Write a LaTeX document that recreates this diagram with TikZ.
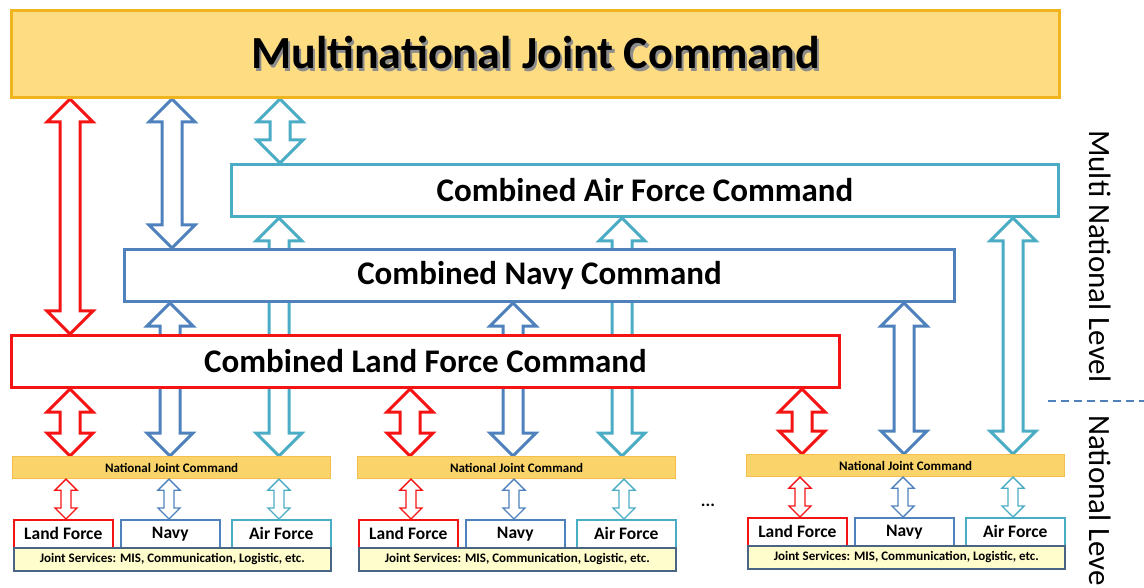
\documentclass[tikz,border=0pt]{standalone}
\usepackage{fontspec}
\setmainfont{Carlito}
\usetikzlibrary{calc}
\definecolor{cmdred}{HTML}{F41414}
\definecolor{cmdblue}{HTML}{4F81BD}
\definecolor{cmdcyan}{HTML}{4BACC6}
\definecolor{goldfill}{HTML}{FEDD82}
\definecolor{goldline}{HTML}{F0B41E}
\definecolor{njcfill}{HTML}{FAD46A}
\definecolor{njcline}{HTML}{F2C04A}
\definecolor{jsfill}{HTML}{FFFDCC}
\definecolor{jsline}{HTML}{4A6584}
\pgfdeclarelayer{background}
\pgfsetlayers{background,main}
\tikzstyle{topbox}=[draw=goldline,fill=goldfill,line width=3pt,anchor=north west,inner sep=0pt,minimum width=1048pt,minimum height=87pt,font=\bfseries\fontsize{46}{50}\selectfont]
\tikzstyle{bigbox}=[draw,fill=white,line width=3pt,anchor=north west,inner sep=0pt,minimum height=52pt,font=\bfseries\fontsize{33}{36}\selectfont]
\tikzstyle{njcbox}=[draw=njcline,fill=njcfill,line width=1.2pt,anchor=north west,inner sep=0pt,minimum width=318pt,minimum height=22pt,font=\bfseries\fontsize{13}{15}\selectfont]
\tikzstyle{forcebox}=[draw,fill=white,line width=1.6pt,anchor=north west,inner sep=0pt,minimum width=99pt,minimum height=28pt,font=\bfseries\fontsize{17.5}{20}\selectfont]
\tikzstyle{jsbox}=[draw=jsline,fill=jsfill,line width=1.6pt,anchor=north west,inner sep=0pt,minimum width=317pt,minimum height=23pt,font=\bfseries\fontsize{13}{15}\selectfont]
\tikzstyle{bigarrow}=[line width=3pt,line join=miter]
\tikzstyle{smallarrow}=[line width=1.4pt,line join=miter]
\tikzstyle{sidelabel}=[rotate=-90,anchor=west,inner sep=0pt,font=\fontsize{31}{34}\selectfont]
\newcommand{\shadowtext}[1]{\makebox[0pt][l]{\hspace{2.5pt}\raisebox{-2.5pt}{\textcolor{black!45}{#1}}}#1}
\newcommand{\blockarrow}[6][bigarrow]{% Syntax: [style] {x} {upper node} {lower node} {half shaft} {half head}
  \draw[#1] let \p1=(#3.south), \p2=(#4.north) in
    (#2,\y1) -- (#2+#6,\y1-#6) -- (#2+#5,\y1-#6) -- (#2+#5,\y2+#6)
    -- (#2+#6,\y2+#6) -- (#2,\y2) -- (#2-#6,\y2+#6) -- (#2-#5,\y2+#6)
    -- (#2-#5,\y1-#6) -- (#2-#6,\y1-#6) -- cycle;
}
\newcommand{\nationgroup}[3]{% Syntax: {name} {left x} {top y}
  \node[njcbox] (njc#1) at (#2,#3) {National Joint Command};
  \node[forcebox,draw=cmdred] (land#1) at (#2+1,#3+63) {Land Force};
  \node[forcebox,draw=cmdblue] (navy#1) at (#2+108,#3+63) {Navy};
  \node[forcebox,draw=cmdcyan] (air#1) at (#2+219,#3+63) {Air Force};
  \node[jsbox] (js#1) at (#2+1,#3+91) {Joint Services: MIS, Communication, Logistic, etc.};
  \blockarrow[smallarrow,cmdred]{#2+54}{njc#1}{land#1}{5}{11}
  \blockarrow[smallarrow,cmdblue]{#2+157}{njc#1}{navy#1}{5}{11}
  \blockarrow[smallarrow,cmdcyan]{#2+267}{njc#1}{air#1}{5}{11}
}

\begin{document}
\begin{tikzpicture}[x=1pt,y=-1pt]
\useasboundingbox (0,0) rectangle (1144,588);
% multinational level
\node[topbox] (mjc) at (10,9) {\shadowtext{Multinational Joint Command}};
\node[bigbox,draw=cmdcyan,minimum width=827pt] (cafc) at (230,163) {Combined Air Force Command};
\node[bigbox,draw=cmdblue,minimum width=830pt] (cnc) at (123,248) {Combined Navy Command};
\node[bigbox,draw=cmdred,minimum width=828pt] (clfc) at (10,334) {Combined Land Force Command};
% national level
\nationgroup{1}{12}{456}
\nationgroup{2}{357}{456}
\nationgroup{3}{746}{454}
\node[font=\bfseries\fontsize{17.5}{20}\selectfont] (more) at (708,505) {...};
% levels
\node[sidelabel] (multilevel) at (1100,130) {Multi National Level};
\node[sidelabel] (natlevel) at (1100,415) {National Level};
\coordinate (splitl) at (1048,401);
\coordinate (splitr) at (1144,401);
\draw[cmdblue,line width=2pt,dash pattern=on 8pt off 5pt] (splitl) -- (splitr);
\begin{pgfonlayer}{background}
\blockarrow[bigarrow,cmdred]{70}{mjc}{clfc}{10}{23}
\blockarrow[bigarrow,cmdblue]{172}{mjc}{cnc}{10}{23}
\blockarrow[bigarrow,cmdcyan]{280}{mjc}{cafc}{10}{23}
\blockarrow[bigarrow,cmdcyan]{279}{cafc}{njc1}{10}{23}
\blockarrow[bigarrow,cmdcyan]{622}{cafc}{njc2}{10}{23}
\blockarrow[bigarrow,cmdcyan]{1013}{cafc}{njc3}{10}{23}
\blockarrow[bigarrow,cmdblue]{170}{cnc}{njc1}{10}{23}
\blockarrow[bigarrow,cmdblue]{513}{cnc}{njc2}{10}{23}
\blockarrow[bigarrow,cmdblue]{904}{cnc}{njc3}{10}{23}
\blockarrow[bigarrow,cmdred]{70}{clfc}{njc1}{10}{23}
\blockarrow[bigarrow,cmdred]{410}{clfc}{njc2}{10}{23}
\blockarrow[bigarrow,cmdred]{802}{clfc}{njc3}{10}{23}
\end{pgfonlayer}
\end{tikzpicture}
\end{document}
